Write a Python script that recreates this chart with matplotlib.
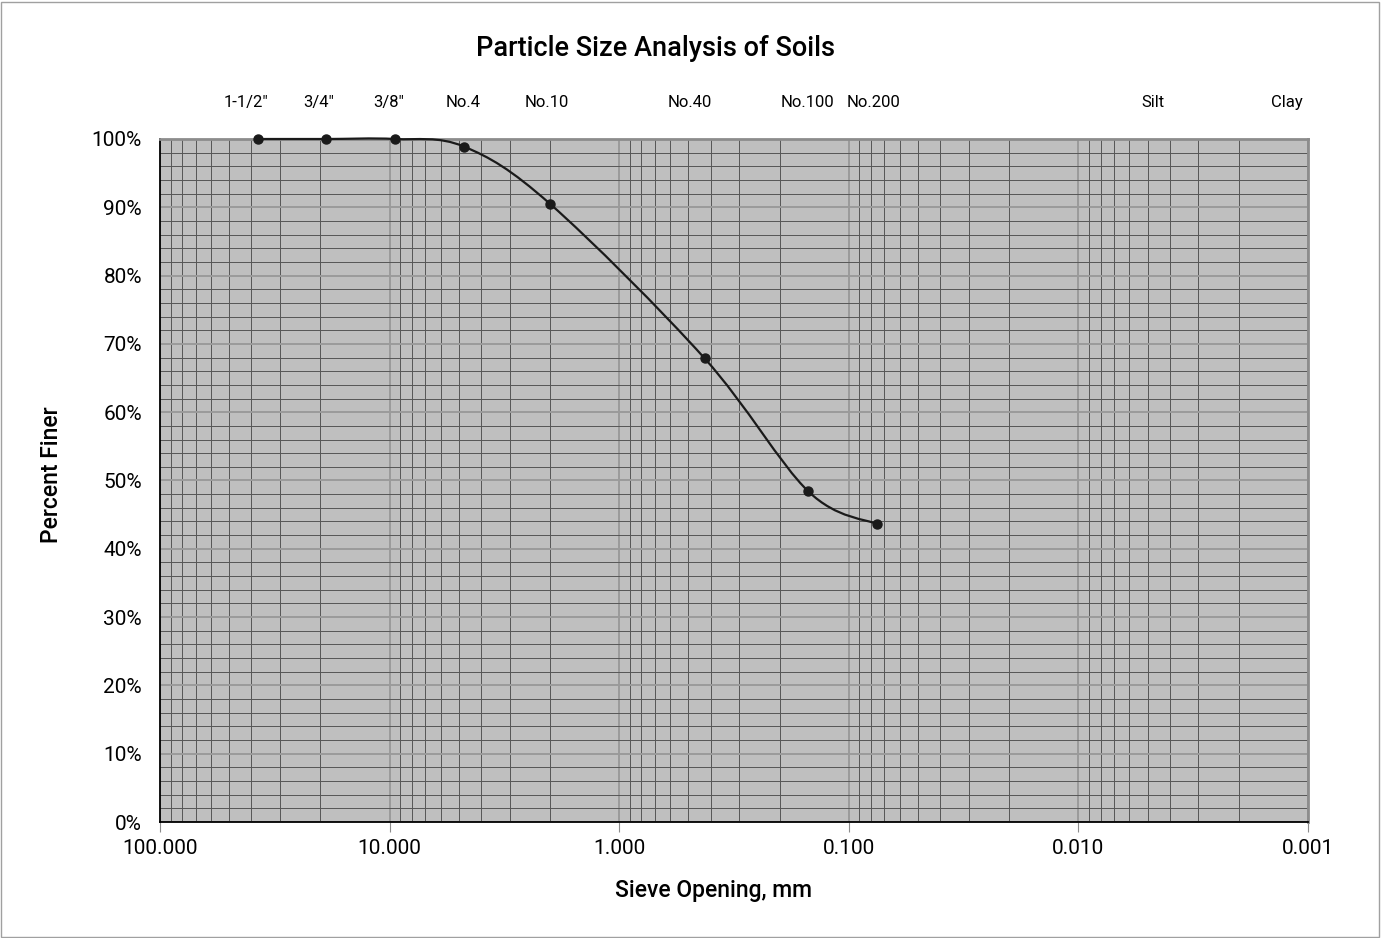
import numpy as np
import matplotlib
matplotlib.use("Agg")
import matplotlib.pyplot as plt
from matplotlib.path import Path
from matplotlib.patches import PathPatch, Rectangle
from matplotlib.ticker import FixedLocator, MultipleLocator, FuncFormatter

# sieve data
sieve_labels = ['1-1/2"', '3/4"', '3/8"', 'No.4', 'No.10', 'No.40', 'No.100', 'No.200']
sieve_mm = [37.5, 19.0, 9.5, 4.75, 2.0, 0.425, 0.15, 0.075]
percent_finer = [100, 100, 100, 98.9, 90.5, 67.9, 48.4, 43.6]

# labels along the top of the plot (positions in mm)
top_labels = sieve_labels + ['Silt', 'Clay']
top_label_mm = [42.2, 20.3, 10.06, 4.79, 2.06, 0.491, 0.151, 0.0777, 0.00473, 0.00123]

x_major = [100, 10, 1, 0.1, 0.01, 0.001]

plt.rcParams['font.family'] = ['Roboto', 'DejaVu Sans']

fig = plt.figure(figsize=(13.82, 9.38), dpi=100)
ax = fig.add_axes([160/1382, 116/938, 1148/1382, 683/938])
ax.set_facecolor('#bfbfbf')

ax.set_xscale('log')
ax.set_xlim(100, 0.001)
ax.set_ylim(0, 100)

ax.xaxis.set_major_locator(FixedLocator(x_major))
minor = [m * d for d in [10, 1, 0.1, 0.01, 0.001] for m in range(2, 10)]
ax.xaxis.set_minor_locator(FixedLocator(minor))
ax.xaxis.set_major_formatter(FuncFormatter(lambda v, p: '%.3f' % v))
ax.xaxis.set_minor_formatter(FuncFormatter(lambda v, p: ''))

ax.yaxis.set_major_locator(MultipleLocator(10))
ax.yaxis.set_minor_locator(MultipleLocator(2))
ax.yaxis.set_major_formatter(FuncFormatter(lambda v, p: '%d%%' % v))

ax.grid(which='minor', color='#555555', linewidth=0.7)
ax.grid(which='major', color='#9a9a9a', linewidth=1.4)
ax.set_axisbelow(True)

ax.tick_params(axis='x', which='major', length=7, color='#8c8c8c', labelsize=15, pad=5)
ax.tick_params(axis='x', which='minor', length=0)
ax.tick_params(axis='y', which='both', length=0, labelsize=15, pad=13)

for s in ['left', 'bottom']:
    ax.spines[s].set_color('black')
    ax.spines[s].set_linewidth(1.3)
for s in ['top', 'right']:
    ax.spines[s].set_color('#8c8c8c')
    ax.spines[s].set_linewidth(2)

# smoothed line (Catmull-Rom style bezier in log space)
pts = np.column_stack([np.log10(sieve_mm), percent_finer])
n = len(pts)
verts = [pts[0]]
codes = [Path.MOVETO]
for i in range(n - 1):
    p0 = pts[max(i - 1, 0)]
    p1 = pts[i]
    p2 = pts[i + 1]
    p3 = pts[min(i + 2, n - 1)]
    verts += [p1 + (p2 - p0) / 6, p2 - (p3 - p1) / 6, p2]
    codes += [Path.CURVE4] * 3
verts = np.array(verts)
verts[:, 0] = 10 ** verts[:, 0]
ax.add_patch(PathPatch(Path(verts, codes), fill=False, edgecolor='#1a1a1a',
                       linewidth=1.6, clip_on=False, zorder=3))
ax.plot(sieve_mm, percent_finer, 'o', color='#1a1a1a', markersize=6.5,
        clip_on=False, zorder=4)

# top labels
trans = ax.get_xaxis_transform()
for lab, xm in zip(top_labels, top_label_mm):
    ax.text(xm, 1.053, lab, transform=trans, ha='center', va='center', fontsize=12)

fig.text(655/1382, 1 - 48/938, 'Particle Size Analysis of Soils', ha='center', va='center',
         fontsize=19.5, fontweight='medium')
fig.text(713/1382, 1 - 890/938, 'Sieve Opening, mm', ha='center', va='center',
         fontsize=16.5, fontweight='medium')
fig.text(52/1382, 1 - 475/938, 'Percent Finer', ha='center', va='center', rotation=90,
         fontsize=16.5, fontweight='medium')

fig.patches.append(Rectangle((0.001, 0.001), 0.997, 0.997, transform=fig.transFigure,
                             fill=False, edgecolor='#a0a0a0', linewidth=1))

fig.savefig('out.png', dpi=100)
